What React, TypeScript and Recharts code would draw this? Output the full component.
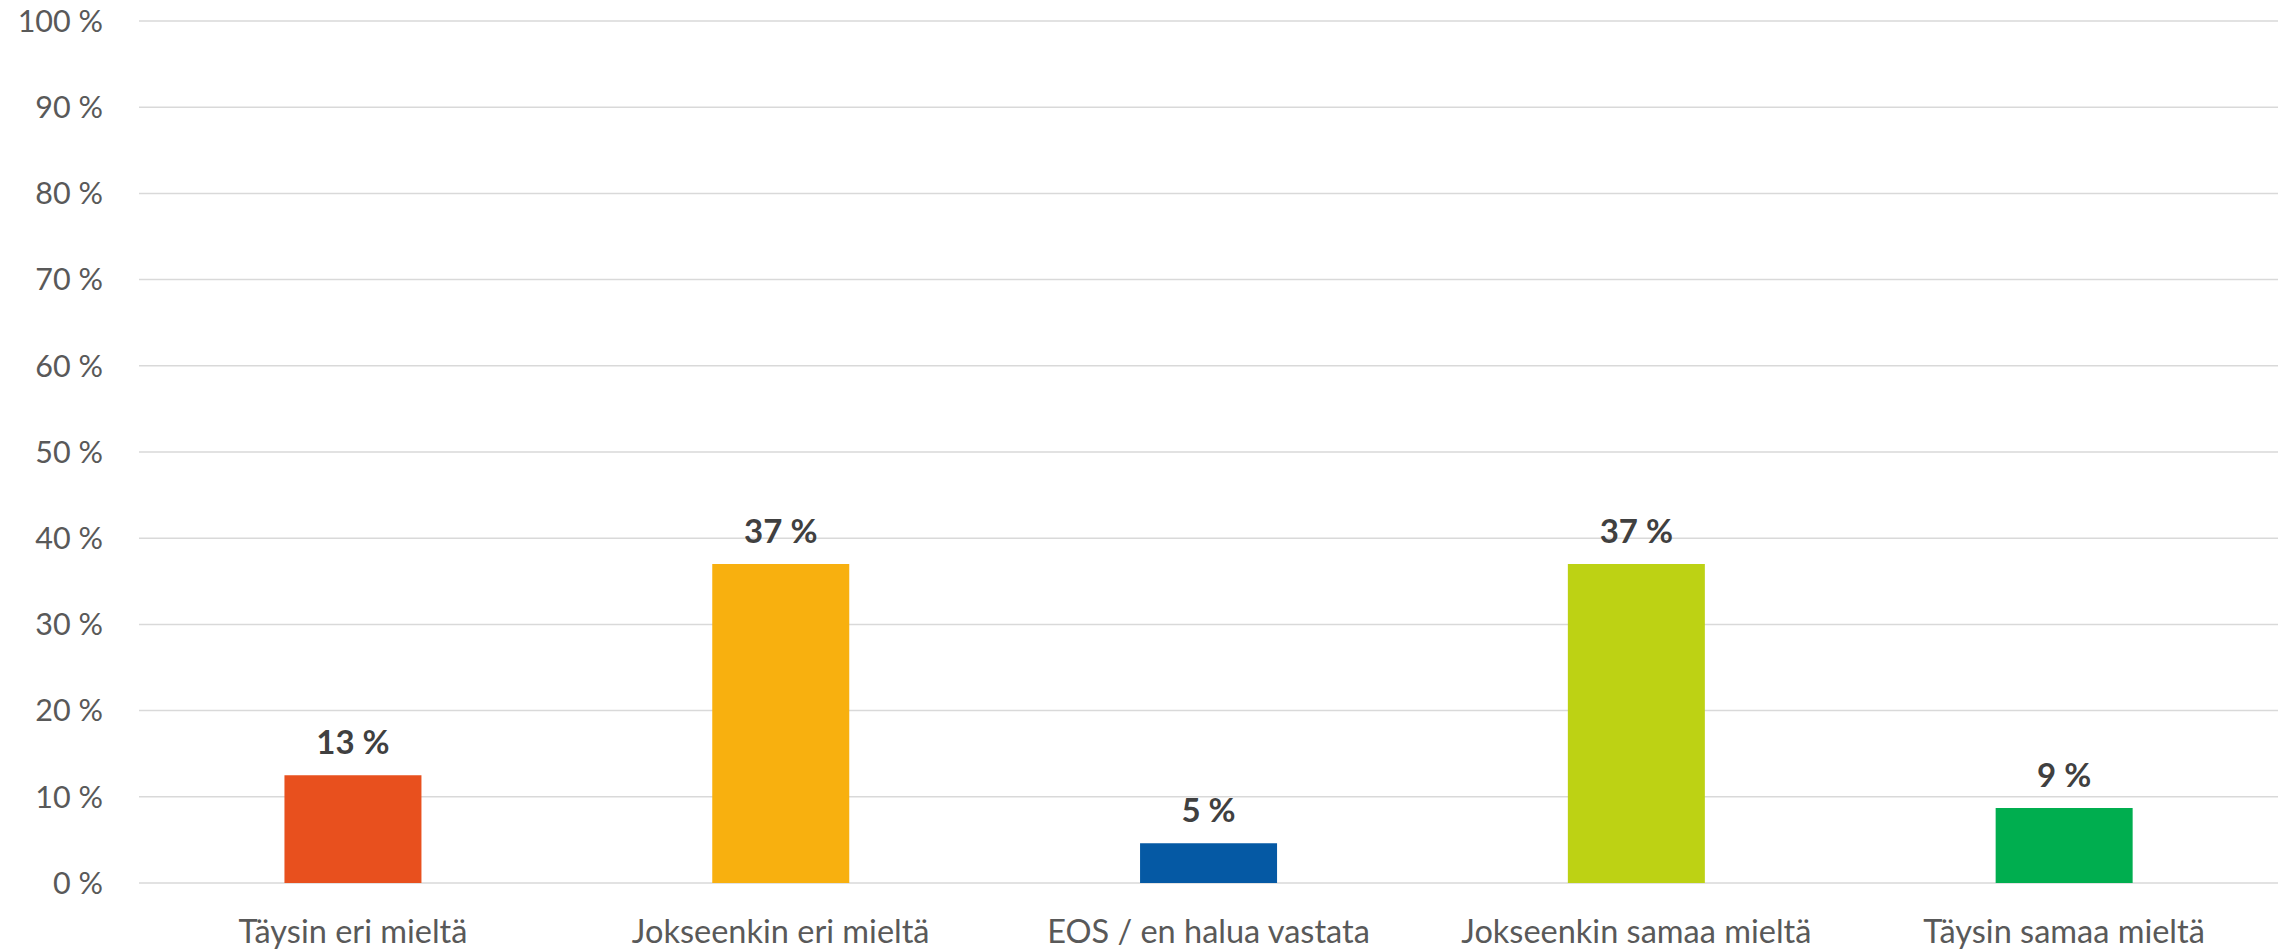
import { BarChart, Bar, XAxis, YAxis, CartesianGrid, Cell, LabelList } from 'recharts';

const categories = [
    'Täysin eri mieltä',
    'Jokseenkin eri mieltä',
    'EOS / en halua vastata',
    'Jokseenkin samaa mieltä',
    'Täysin samaa mieltä',
];
const shares = [12.5, 37, 4.6, 37, 8.7];
const barColors = ['#E8501E', '#F8B00F', '#0559A4', '#BDD214', '#00AE4F'];
const yTicks = [0, 10, 20, 30, 40, 50, 60, 70, 80, 90, 100];

const data = categories.map((name, i) => ({ name, value: shares[i] }));

const font = 'Lato, "Open Sans", sans-serif';

export default function App() {
    return (
        <div style={{ position: 'absolute', left: 0, top: 0, background: '#fff' }}>
            <BarChart
                width={2292}
                height={951}
                data={data}
                margin={{ top: 21, right: 14, left: 0, bottom: 0 }}
                barCategoryGap="34%"
            >
                <CartesianGrid horizontal vertical={false} stroke="#d9d9d9" strokeWidth={1.5} />
                <XAxis
                    dataKey="name"
                    height={68}
                    axisLine={false}
                    tickLine={false}
                    tickSize={0}
                    tickMargin={37}
                    interval={0}
                    tick={{ fill: '#595959', fontSize: 32.5, fontFamily: font }}
                />
                <YAxis
                    width={139}
                    domain={[0, 100]}
                    ticks={yTicks}
                    interval={0}
                    axisLine={false}
                    tickLine={false}
                    tickSize={0}
                    tickMargin={36}
                    tickFormatter={(v) => `${v} %`}
                    tick={{ fill: '#595959', fontSize: 30.5, fontFamily: font }}
                />
                <Bar dataKey="value" isAnimationActive={false}>
                    {data.map((d, i) => (
                        <Cell key={d.name} fill={barColors[i]} />
                    ))}
                    <LabelList
                        dataKey="value"
                        position="top"
                        offset={21}
                        formatter={(v: number) => `${Math.round(v)} %`}
                        style={{ fill: '#404040', fontSize: 33, fontWeight: 700, fontFamily: font }}
                    />
                </Bar>
            </BarChart>
        </div>
    );
}
